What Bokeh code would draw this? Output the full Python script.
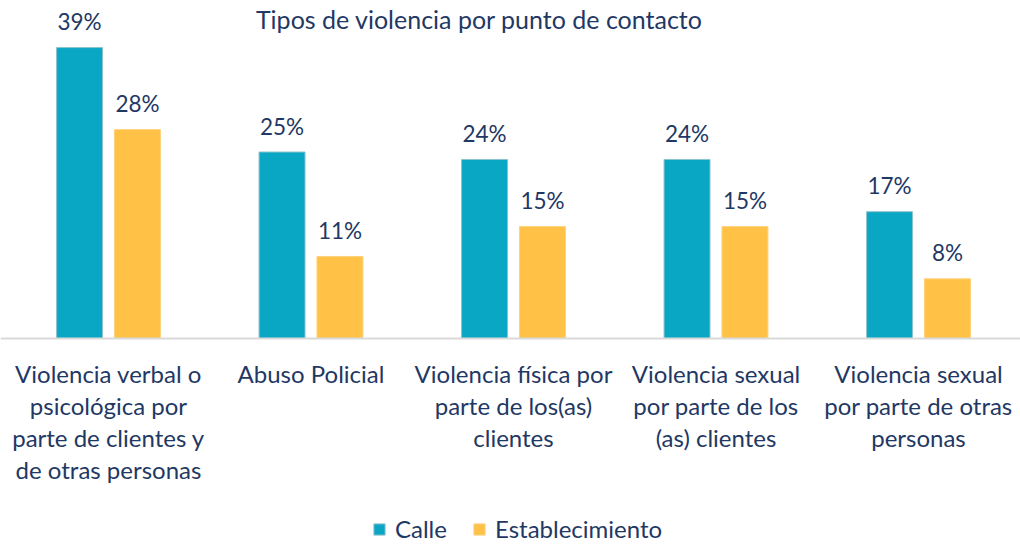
from bokeh.plotting import figure
from bokeh.models import ColumnDataSource, Range1d, Span, Legend, LegendItem, Label
from bokeh.transform import dodge
from bokeh.core.properties import value
from bokeh.embed import file_html
from bokeh.resources import INLINE

categories = [
    "Violencia verbal o\npsicológica por\nparte de clientes y\nde otras personas",
    "Abuso Policial",
    "Violencia física por\nparte de los(as)\nclientes",
    "Violencia sexual\npor parte de los\n(as) clientes",
    "Violencia sexual\npor parte de otras\npersonas",
]
calle = [39, 25, 24, 24, 17]
establecimiento = [28, 11, 15, 15, 8]
series = ["Calle", "Establecimiento"]
title_text = "Tipos de violencia por punto de contacto"

TEAL = "#0AA7C4"
YELLOW = "#FFC247"
NAVY = "#1F3864"
FONT = "Lato"

xs = [i + 0.5 for i in range(len(categories))]
src = ColumnDataSource(dict(
    x=xs,
    cat=categories,
    calle=calle,
    est=establecimiento,
    calle_lbl=[f"{v}%" for v in calle],
    est_lbl=[f"{v}%" for v in establecimiento],
))

p = figure(width=1020, height=545, output_backend="svg", toolbar_location=None,
           x_range=Range1d(-0.0333, 5.0037), y_range=Range1d(-27.75, 45.31),
           min_border=0, outline_line_color=None)
p.axis.visible = False
p.grid.visible = False
p.background_fill_color = "white"

off = 0.143
bw = 0.227
r1 = p.vbar(x=dodge("x", -off, range=p.x_range), top="calle", bottom=0, width=bw, source=src,
            fill_color=TEAL, line_color="#8CC3CD", line_width=1)
r2 = p.vbar(x=dodge("x", off, range=p.x_range), top="est", bottom=0, width=bw, source=src,
            fill_color=YELLOW, line_color="#FFD27A", line_width=1)

p.add_layout(Span(location=0, dimension="width", line_color="#D9D9D9", line_width=2))

p.text(x=dodge("x", -off, range=p.x_range), y="calle", text="calle_lbl", source=src,
       y_offset=-26, text_align="center", text_baseline="alphabetic",
       text_font=value(FONT), text_font_size="22.5px", text_color=NAVY)
p.text(x=dodge("x", off, range=p.x_range), y="est", text="est_lbl", source=src,
       y_offset=-26, text_align="center", text_baseline="alphabetic",
       text_font=value(FONT), text_font_size="22.5px", text_color=NAVY)

p.text(x="x", y=0, text="cat", source=src, y_offset=21, text_align="center",
       text_baseline="top", text_line_height=1.1,
       text_font=value(FONT), text_font_size="24px", text_color=NAVY)

p.add_layout(Label(x=479, y=527, x_units="screen", y_units="screen", text=title_text,
                   text_align="center", text_baseline="alphabetic",
                   text_font=FONT, text_font_size="25px", text_color=NAVY))

legend = Legend(items=[LegendItem(label=series[0], renderers=[r1]),
                       LegendItem(label=series[1], renderers=[r2])],
                orientation="horizontal", location=(372, 2),
                glyph_width=14, glyph_height=14, label_standoff=9, spacing=25,
                padding=0, margin=0, border_line_color=None, background_fill_alpha=0,
                label_text_font=FONT, label_text_font_size="24px", label_text_color=NAVY,
                label_height=20)
p.add_layout(legend)

open("out.html", "w").write(file_html(p, INLINE))
